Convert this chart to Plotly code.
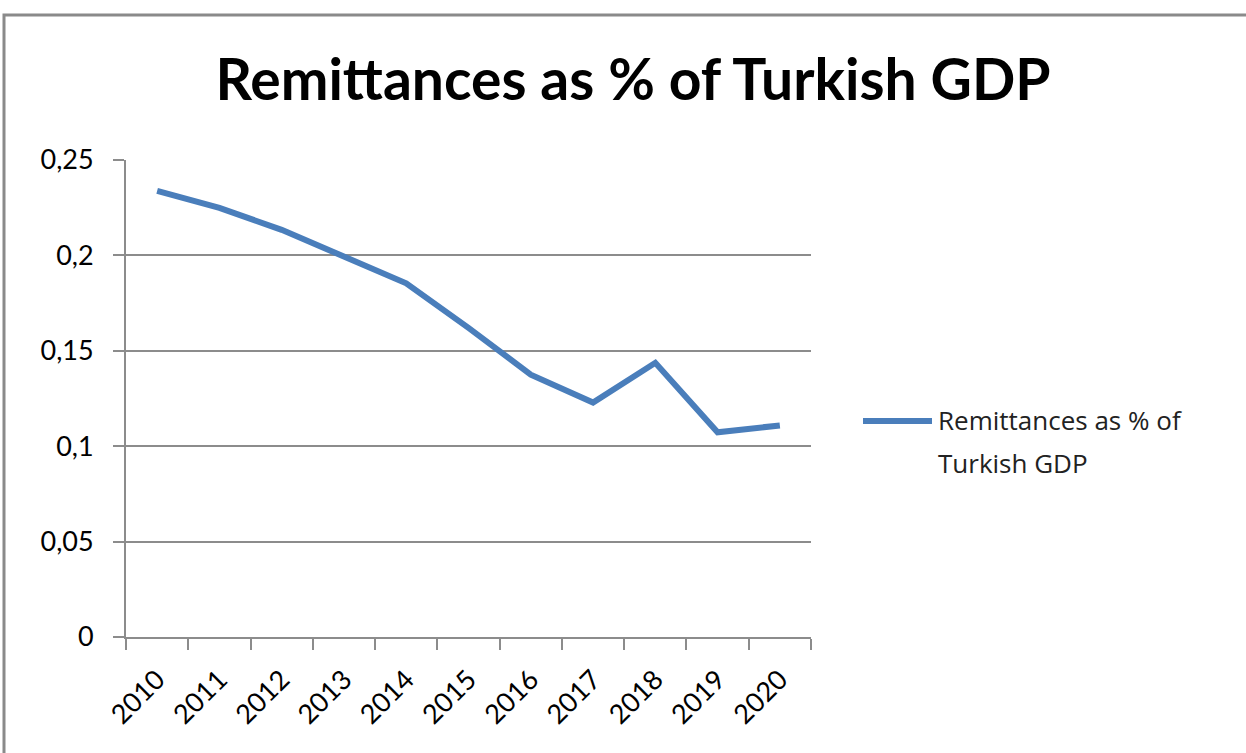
import plotly.graph_objects as go

years = ["2010", "2011", "2012", "2013", "2014", "2015", "2016", "2017", "2018", "2019", "2020"]
remittances = [0.2338, 0.2249, 0.2134, 0.1993, 0.1854, 0.1620, 0.1375, 0.1229, 0.1437, 0.1073, 0.1109]
y_ticks = [0, 0.05, 0.1, 0.15, 0.2, 0.25]
y_ticktext = ["0", "0,05", "0,1", "0,15", "0,2", "0,25"]
series_name_lines = ["Remittances as % of", "Turkish GDP"]

font = "Lato"
W, H = 1246, 753
L, R, T, B = 126, 811, 160, 637
LINE_COLOR = "#4A7EBB"

fig = go.Figure()
fig.add_trace(go.Scatter(
    x=years, y=remittances, mode="lines",
    name=" ".join(series_name_lines), showlegend=False,
    line=dict(color=LINE_COLOR, width=6),
))

def px_to_paper_x(px):
    return (px - L) / (R - L)

def px_to_paper_y(py):
    return (B - py) / (B - T)

legend_ann = [
    dict(text=t, xref="paper", yref="paper",
         x=px_to_paper_x(936), y=px_to_paper_y(cy), xanchor="left", yanchor="middle",
         align="left", showarrow=False,
         font=dict(family="Open Sans", size=26, color="#222"))
    for t, cy in zip(series_name_lines, [420, 463])
]

fig.update_layout(
    width=W, height=H,
    margin=dict(l=L, r=W - R, t=T, b=H - B),
    paper_bgcolor="white", plot_bgcolor="white",
    title=dict(text="<b>Remittances as % of Turkish GDP</b>", x=633 / W, xanchor="center",
               y=1 - 80 / H, yanchor="middle",
               font=dict(family=font, size=57, color="black")),
    showlegend=False,
    xaxis=dict(type="category", range=[-0.5, len(years) - 0.5],
               showgrid=False, showline=True, linecolor="#8c8c8c", linewidth=2,
               ticks="outside", tickson="boundaries", ticklen=11, tickcolor="#8c8c8c", tickwidth=2,
               tickangle=-45, ticklabelstandoff=14,
               tickfont=dict(family=font, size=27, color="black")),
    yaxis=dict(range=[0, 0.25], tickvals=y_ticks, ticktext=y_ticktext,
               showgrid=True, gridcolor="#8c8c8c", gridwidth=1.5,
               showline=True, linecolor="#8c8c8c", linewidth=2,
               ticks="outside", ticklen=11, tickcolor="#8c8c8c", tickwidth=1.5,
               ticklabelstandoff=14,
               tickfont=dict(family=font, size=27, color="black"), zeroline=False),
    shapes=[
        dict(type="rect", xref="paper", yref="paper",
             x0=px_to_paper_x(4), x1=px_to_paper_x(1260),
             y0=px_to_paper_y(770), y1=px_to_paper_y(15),
             line=dict(color="#8a8a8a", width=3), layer="below"),
        # legend key
        dict(type="line", xref="paper", yref="paper",
             x0=px_to_paper_x(863), x1=px_to_paper_x(932),
             y0=px_to_paper_y(421), y1=px_to_paper_y(421),
             line=dict(color=LINE_COLOR, width=6)),
    ],
    annotations=legend_ann,
)

fig.write_html("out.html")
